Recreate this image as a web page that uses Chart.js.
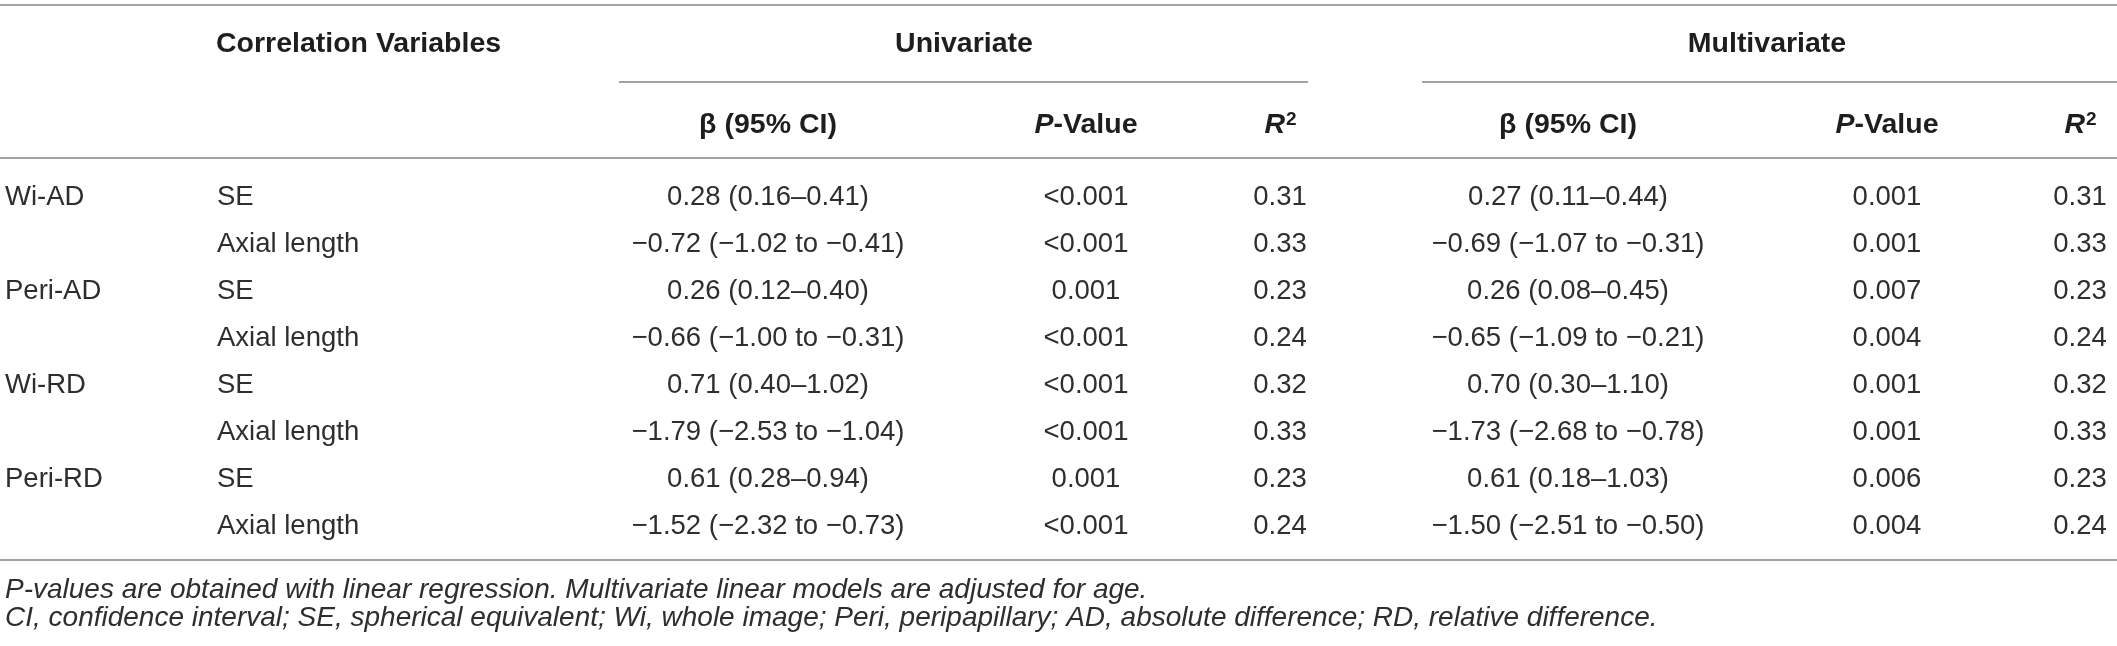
<!DOCTYPE html>
<html>
<head>
<meta charset="utf-8">
<script src="https://cdn.jsdelivr.net/npm/chart.js@4.4.1/dist/chart.umd.min.js"></script>
<style>
html, body { margin: 0; padding: 0; background: #fff; }
#wrap { width: 2117px; height: 646px; }
</style>
</head>
<body>
<div id="wrap"><canvas id="table"></canvas></div>
<script>
// table content
const outcomes = ['Wi-AD', 'Peri-AD', 'Wi-RD', 'Peri-RD']
const variables = ['SE', 'Axial length']

const uniBeta = [
    '0.28 (0.16–0.41)', '−0.72 (−1.02 to −0.41)',
    '0.26 (0.12–0.40)', '−0.66 (−1.00 to −0.31)',
    '0.71 (0.40–1.02)', '−1.79 (−2.53 to −1.04)',
    '0.61 (0.28–0.94)', '−1.52 (−2.32 to −0.73)'
]
const uniP = ['<0.001', '<0.001', '0.001', '<0.001', '<0.001', '<0.001', '0.001', '<0.001']
const uniR2 = ['0.31', '0.33', '0.23', '0.24', '0.32', '0.33', '0.23', '0.24']

const multiBeta = [
    '0.27 (0.11–0.44)', '−0.69 (−1.07 to −0.31)',
    '0.26 (0.08–0.45)', '−0.65 (−1.09 to −0.21)',
    '0.70 (0.30–1.10)', '−1.73 (−2.68 to −0.78)',
    '0.61 (0.18–1.03)', '−1.50 (−2.51 to −0.50)'
]
const multiP = ['0.001', '0.001', '0.007', '0.004', '0.001', '0.001', '0.006', '0.004']
const multiR2 = ['0.31', '0.33', '0.23', '0.24', '0.32', '0.33', '0.23', '0.24']

const footnotes = [
    'P-values are obtained with linear regression. Multivariate linear models are adjusted for age.',
    'CI, confidence interval; SE, spherical equivalent; Wi, whole image; Peri, peripapillary; AD, absolute difference; RD, relative difference.'
]

// layout
const W = 2117, H = 646
const FAMILY = '"Liberation Sans", Arial, Helvetica, sans-serif'
const BODY = 27.5, HEAD = 28.5, NOTE = 28
const rowTop = 195.5, rowStep = 47
const rowY = i => rowTop + i * rowStep

const rowOutcome = outcomes.flatMap(o => [o, ''])
const rowVariable = outcomes.flatMap(() => variables)

const columns = [
    { texts: rowOutcome, x: 5, align: 'left' },
    { texts: rowVariable, x: 217, align: 'left' },
    { texts: uniBeta, x: 768, align: 'center' },
    { texts: uniP, x: 1086, align: 'center' },
    { texts: uniR2, x: 1280, align: 'center' },
    { texts: multiBeta, x: 1568, align: 'center' },
    { texts: multiP, x: 1887, align: 'center' },
    { texts: multiR2, x: 2080, align: 'center' }
]

// header cells, rich text segments
const b = t => ({ t, style: 'bold' })
const bi = t => ({ t, style: 'italic bold' })
const sup = t => ({ t, style: 'bold', sup: true })
const pValue = [bi('P'), b('-Value')]
const r2 = [bi('R'), sup('2')]
const beta = [b('β (95% CI)')]

const headers = [
    { segs: [b('Correlation Variables')], x: 216, y: 42, align: 'left' },
    { segs: [b('Univariate')], x: 964, y: 42, align: 'center' },
    { segs: [b('Multivariate')], x: 1767, y: 42, align: 'center' },
    { segs: beta, x: 768, y: 123, align: 'center' },
    { segs: pValue, x: 1086, y: 123, align: 'center' },
    { segs: r2, x: 1280, y: 123, align: 'center' },
    { segs: beta, x: 1568, y: 123, align: 'center' },
    { segs: pValue, x: 1887, y: 123, align: 'center' },
    { segs: r2, x: 2080, y: 123, align: 'center' }
]

const rules = [
    [0, W, 5], [619, 1308, 82], [1422, W, 82], [0, W, 158], [0, W, 560]
]

// datasets: one scatter set per column, one for headers, one for notes, lines for the rules
const datasets = []

columns.forEach(col => {
    datasets.push({
        kind: 'cell',
        texts: col.texts,
        align: col.align,
        data: col.texts.map((t, i) => ({ x: col.x, y: rowY(i) })),
        pointRadius: 0
    })
})

datasets.push({
    kind: 'header',
    segs: headers.map(h => h.segs),
    aligns: headers.map(h => h.align),
    data: headers.map(h => ({ x: h.x, y: h.y })),
    pointRadius: 0
})

datasets.push({
    kind: 'note',
    texts: footnotes,
    data: footnotes.map((t, i) => ({ x: 5, y: 590 + i * 28 })),
    pointRadius: 0
})

rules.forEach(([x0, x1, y]) => {
    datasets.push({
        type: 'line',
        data: [{ x: x0, y }, { x: x1, y }],
        borderColor: '#a3a3a3',
        borderWidth: 2,
        pointRadius: 0,
        clip: false
    })
})

function segFont(s) {
    const size = s.sup ? 19 : HEAD
    return `${s.style} ${size}px ${FAMILY}`
}

function drawRich(ctx, segs, x, y, align) {
    let width = 0
    segs.forEach(s => {
        ctx.font = segFont(s)
        width += ctx.measureText(s.t).width
    })
    let cx = align === 'center' ? x - width / 2 : align === 'right' ? x - width : x
    segs.forEach(s => {
        ctx.font = segFont(s)
        ctx.fillText(s.t, cx + (s.sup ? 1 : 0), s.sup ? y - 8 : y)
        cx += ctx.measureText(s.t).width
    })
}

const textPlugin = {
    id: 'tableText',
    afterDatasetsDraw(chart) {
        const ctx = chart.ctx
        ctx.save()
        ctx.textBaseline = 'alphabetic'
        chart.data.datasets.forEach((ds, i) => {
            const meta = chart.getDatasetMeta(i)
            if (ds.kind === 'cell') {
                ctx.font = `${BODY}px ${FAMILY}`
                ctx.fillStyle = '#2e2e2e'
                ctx.textAlign = ds.align
                meta.data.forEach((pt, j) => {
                    ctx.fillText(ds.texts[j], pt.x, pt.y + BODY * 0.36)
                })
            } else if (ds.kind === 'header') {
                ctx.fillStyle = '#1e1e1e'
                ctx.textAlign = 'left'
                meta.data.forEach((pt, j) => {
                    drawRich(ctx, ds.segs[j], pt.x, pt.y + HEAD * 0.36, ds.aligns[j])
                })
            } else if (ds.kind === 'note') {
                ctx.font = `italic ${NOTE}px ${FAMILY}`
                ctx.fillStyle = '#2e2e2e'
                ctx.textAlign = 'left'
                meta.data.forEach((pt, j) => {
                    ctx.fillText(ds.texts[j], pt.x, pt.y + 8)
                })
            }
        })
        ctx.restore()
    }
}

new Chart(document.getElementById('table'), {
    type: 'scatter',
    data: { datasets },
    options: {
        responsive: true,
        maintainAspectRatio: false,
        animation: false,
        layout: { padding: 0 },
        events: [],
        scales: {
            x: { type: 'linear', min: 0, max: W, display: false },
            y: { type: 'linear', min: 0, max: H, reverse: true, display: false }
        },
        plugins: {
            legend: { display: false },
            tooltip: { enabled: false }
        }
    },
    plugins: [textPlugin]
})
</script>
</body>
</html>
